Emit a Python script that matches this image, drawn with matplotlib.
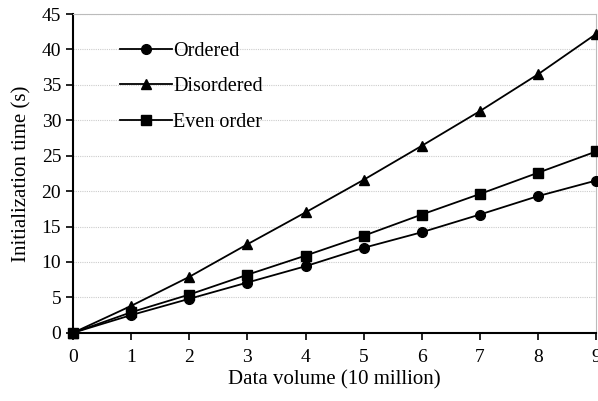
import numpy as np
import matplotlib.pyplot as plt

plt.rcParams['font.family'] = ['Liberation Serif', 'DejaVu Serif']

volume = [0, 1, 2, 3, 4, 5, 6, 7, 8, 9]
ordered = [0, 2.5, 4.8, 7.1, 9.4, 12.0, 14.2, 16.7, 19.3, 21.5]
disordered = [0, 3.8, 7.9, 12.5, 17.0, 21.6, 26.4, 31.3, 36.5, 42.2]
even_order = [0, 2.9, 5.4, 8.2, 10.9, 13.7, 16.7, 19.6, 22.6, 25.6]

fig = plt.figure(figsize=(5.98, 4.01), dpi=100)
ax = fig.add_axes([0.122, 0.170, 0.875, 0.795])

ax.plot(volume, ordered, color='black', marker='o', markersize=7, lw=1.3, label='Ordered', clip_on=False, zorder=3)
ax.plot(volume, disordered, color='black', marker='^', markersize=7.5, lw=1.3, label='Disordered', clip_on=False, zorder=3)
ax.plot(volume, even_order, color='black', marker='s', markersize=7, lw=1.3, label='Even order', clip_on=False, zorder=3)

ax.set_xlim(0, 9)
ax.set_ylim(0, 45)
ax.set_xticks(range(0, 10))
ax.set_yticks(range(0, 46, 5))
ax.yaxis.grid(True, color='#cccccc', linestyle=(0, (1, 1)), lw=0.8)
ax.set_axisbelow(True)

for s in ['left', 'bottom']:
    ax.spines[s].set_linewidth(1.5)
for s in ['top', 'right']:
    ax.spines[s].set_color('#bbbbbb')
    ax.spines[s].set_linewidth(0.8)

ax.tick_params(direction='out', length=5, width=1.2, labelsize=14)
ax.tick_params(axis='x', pad=7)
ax.set_xlabel('Data volume (10 million)', fontsize=15, labelpad=3)
ax.set_ylabel('Initialization time (s)', fontsize=15, labelpad=7)

ax.legend(loc='upper left', bbox_to_anchor=(0.055, 0.97), frameon=False, fontsize=14.5,
          handlelength=2.6, handletextpad=0.05, labelspacing=0.82)

fig.savefig('out.png', dpi=100)
